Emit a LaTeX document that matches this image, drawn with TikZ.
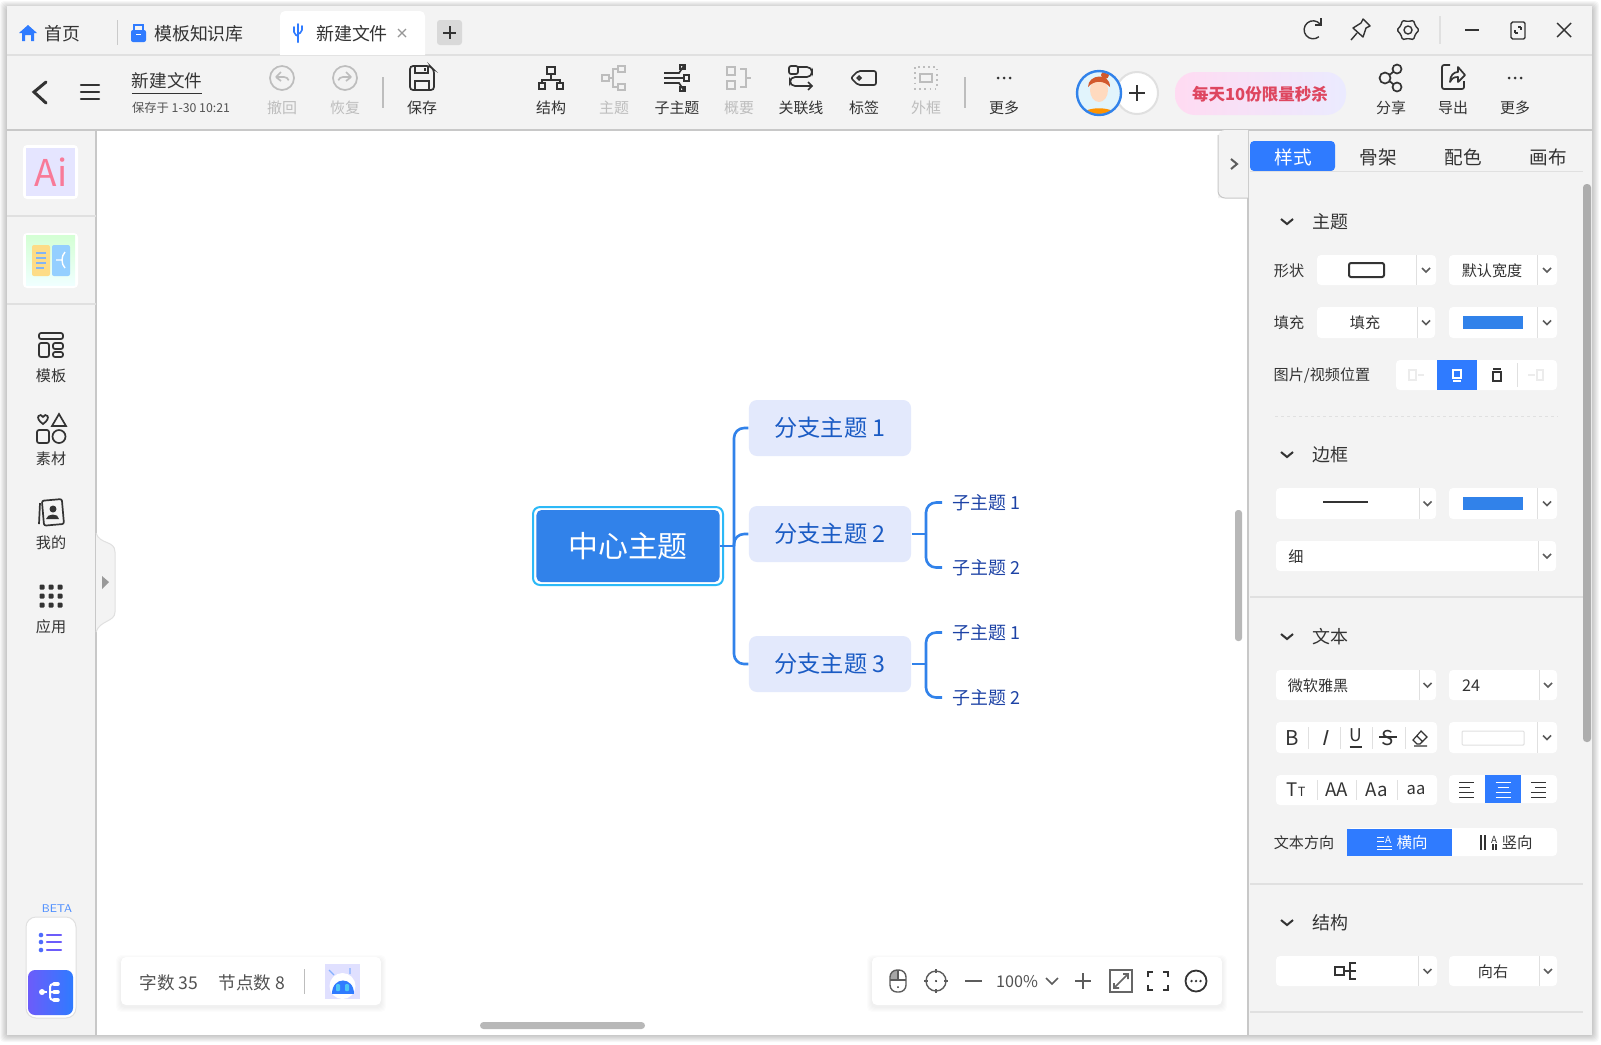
\documentclass[tikz,border=0pt]{standalone}
\usepackage{fontspec}
\setmainfont{Noto Sans CJK SC}
\usetikzlibrary{arrows.meta, positioning, shapes, calc}
\definecolor{MainBlue}{RGB}{49, 130, 234}
\definecolor{TabBlue}{RGB}{47, 123, 255}
\definecolor{PanelGray}{RGB}{243, 243, 243}
\definecolor{EdgeGray}{RGB}{200, 200, 200}
\definecolor{SoftGray}{RGB}{224, 224, 224}
\definecolor{DimGray}{RGB}{189, 189, 189}
\definecolor{Ink}{RGB}{51, 51, 51}
\definecolor{BranchFill}{RGB}{227, 233, 252}
\definecolor{BranchText}{RGB}{26, 91, 196}
\definecolor{LeafText}{RGB}{28, 66, 165}
\definecolor{RingBlue}{RGB}{44, 185, 247}
\definecolor{BeamViolet}{RGB}{108, 92, 250}
\definecolor{SaleRed}{RGB}{222, 70, 95}
\definecolor{AiPink}{RGB}{248, 122, 152}

\begin{document}
\begin{tikzpicture}[
            x=0.01cm, y=-0.01cm,
            rootnode/.style={rectangle, fill=MainBlue, text=white, rounded corners=0.05cm, minimum width=1.83cm, minimum height=0.72cm, inner sep=0pt, font=\fontsize{8.5}{10}\selectfont},
            branchnode/.style={rectangle, fill=BranchFill, text=BranchText, rounded corners=0.08cm, minimum width=1.62cm, minimum height=0.56cm, inner sep=0pt, font=\fontsize{6.6}{8}\selectfont},
            leafnode/.style={anchor=west, inner ysep=0pt, inner xsep=0.1cm, text=LeafText, font=\fontsize{5.1}{6}\selectfont},
            link/.style={draw=MainBlue, line width=0.026cm},
            turnlink/.style={link, rounded corners=0.1cm},
            txt/.style={inner sep=0pt, yshift=-0.01cm, text=Ink, font=\fontsize{5}{6}\selectfont},
            head/.style={txt, font=\fontsize{5.1}{6}\selectfont},
            tool/.style={txt, font=\fontsize{4.25}{5}\selectfont},
            small/.style={txt, font=\fontsize{4.3}{5}\selectfont},
            ico/.style={draw=Ink, line width=0.017cm},
            icodim/.style={draw=DimGray, line width=0.017cm},
            chev/.style={draw=Ink!80, line width=0.016cm},
            whitebox/.style={fill=white, rounded corners=0.04cm},
            splitline/.style={draw=SoftGray, line width=0.01cm},
            ruleline/.style={draw=SoftGray, line width=0.012cm},
            floatbar/.style={fill=white, rounded corners=0.05cm},
        ]
\useasboundingbox (0,0) rectangle (1601,1044);
\fill[white] (0,0) rectangle (1601,1044);
\foreach \d in {1,...,7} \fill[black, opacity=0.03, rounded corners=0.04cm] (7-\d,8-\d) rectangle (1592+\d,1035+\d);
\fill[PanelGray] (7,6) rectangle (1592,1035);
\fill[white] (96,130) rectangle (1248,1035);
\draw[ruleline] (7,55) -- (1592,55);
\draw[EdgeGray, line width=0.014cm] (7,130) -- (1592,130);
\draw[EdgeGray, line width=0.014cm] (96,130) -- (96,1035);
\draw[EdgeGray, line width=0.014cm] (1248,130) -- (1248,1035);

\fill[white] (280,55) [rounded corners=0.05cm] -- (280,11) -- (425,11) [sharp corners] -- (425,55) -- cycle;
\fill[TabBlue] (28,25) -- (37,33) -- (34,33) -- (34,41) -- (31,41) -- (31,35) -- (25,35) -- (25,41) -- (22,41) -- (22,33) -- (19,33) -- cycle;
\node[txt, font=\fontsize{5.1}{6}\selectfont] (tabhome) at (62,33) {首页};
\draw[SoftGray!90!black, line width=0.01cm] (117,20) -- (117,45);
\fill[TabBlue, rounded corners=0.02cm] (131,30) rectangle (146,42);
\draw[TabBlue, line width=0.018cm] (134,30) -- (134,25) -- (143,25) -- (143,30);
\fill[white] (136,34) rectangle (141,35);
\node[txt, font=\fontsize{5.1}{6}\selectfont] (tabkb) at (199,33) {模板知识库};
\draw[TabBlue, line width=0.02cm, line cap=round] (298,42) -- (298,24);
\draw[TabBlue, line width=0.016cm, line cap=round, rounded corners=0.02cm] (298,36) -- (294,34) -- (294,27);
\draw[TabBlue, line width=0.016cm, line cap=round, rounded corners=0.02cm] (298,34) -- (302,32) -- (302,26);
\node[txt, font=\fontsize{5.1}{6}\selectfont] (tabnew) at (352,33) {新建文件};
\draw[DimGray!80!black, line width=0.012cm] (398,29) -- (406,37) (406,29) -- (398,37);
\fill[rounded corners=0.03cm, fill=black!15] (437,20) rectangle (462,45);
\draw[Ink, line width=0.02cm] (443,33) -- (456,33) (449.5,26) -- (449.5,39);

\draw[ico, line width=0.014cm] (1320,24) arc (-40:-310:9);
\draw[ico, line width=0.014cm] (1321,18) -- (1321,25) -- (1315,25);
\begin{scope}[shift={(1360,30)}, ico, line width=0.014cm]
    \draw[line join=round] (3,-11) -- (10,-4) -- (6,-2) -- (3,7) -- (-7,-2) -- (1,-7) -- cycle;
    \draw (-3,3) -- (-9,10);
\end{scope}
\begin{scope}[shift={(1408,30)}, ico, line width=0.014cm]
    \draw[rounded corners=0.012cm] (0:11) -- (30:8.5) -- (60:11) -- (90:8.5) -- (120:11) -- (150:8.5) -- (180:11) -- (210:8.5) -- (240:11) -- (270:8.5) -- (300:11) -- (330:8.5) -- cycle;
    \draw (0,0) circle (4);
\end{scope}
\draw[ruleline] (1440,16) -- (1440,44);
\draw[ico, line width=0.014cm] (1465,30) -- (1479,30);
\draw[ico, line width=0.014cm, rounded corners=0.015cm] (1511,22) rectangle (1525,39);
\draw[ico, line width=0.012cm] (1515,33) -- (1515,30) (1515,33) -- (1518,33) (1521,27) -- (1521,30) (1521,27) -- (1518,27);
\draw[ico, line width=0.014cm] (1557,23) -- (1571,37) (1571,23) -- (1557,37);

\draw[Ink, line width=0.03cm, line cap=round] (46,82) -- (34,92) -- (46,103);
\draw[Ink, line width=0.024cm, line cap=round] (81,85) -- (99,85) (81,92) -- (99,92) (81,99) -- (99,99);
\node[txt, font=\fontsize{5}{6}\selectfont] (docname) at (167,83) {\underline{新建文件}};
\node[txt, text=Ink!85, font=\fontsize{3.5}{4}\selectfont] (docsaved) at (181,107) {保存于 1-30 10:21};

\foreach \tx/\tn/\tl/\tc in {282/tbundo/撤回/DimGray, 345/tbredo/恢复/DimGray, 422/tbsave/保存/Ink, 551/tbstruct/结构/Ink, 614/tbtopic/主题/DimGray, 677/tbsub/子主题/Ink, 739/tbsum/概要/DimGray, 801/tbrel/关联线/Ink, 864/tbtag/标签/Ink, 926/tbframe/外框/DimGray, 1004/tbmore/更多/Ink, 1391/tbshare/分享/Ink, 1453/tbexport/导出/Ink, 1515/tbextra/更多/Ink}
    \node[tool, text=\tc] (\tn) at (\tx,107) {\tl};
\foreach \sx in {383, 965} \draw[DimGray, line width=0.016cm] (\sx,77) -- (\sx,108);

\begin{scope}[shift={(282,78)}, icodim]
    \draw (0,0) circle (12);
    \draw (-6,-1) -- (-1,-6) (-6,-1) -- (-1,3);
    \draw (-6,-1) -- (2,-1) arc (-90:-20:5);
\end{scope}
\begin{scope}[shift={(345,78)}, icodim]
    \draw (0,0) circle (12);
    \draw (6,-1) -- (1,-6) (6,-1) -- (1,3);
    \draw (6,-1) -- (-2,-1) arc (-90:-160:5);
\end{scope}
\begin{scope}[shift={(422,78)}, ico]
    \draw[rounded corners=0.03cm] (-12,-12) -- (8,-12) -- (12,-8) -- (12,12) -- (-12,12) -- cycle;
    \draw (-7,-12) -- (-7,-5) -- (6,-5) -- (6,-12);
    \draw (-7,12) -- (-7,3) -- (7,3) -- (7,12);
    \draw (3,-10) -- (3,-7);
\end{scope}
\begin{scope}[shift={(551,78)}, ico]
    \draw (-4,-11) rectangle (4,-4);
    \draw (0,-4) -- (0,2);
    \draw (-9,5) -- (-9,2) -- (9,2) -- (9,5);
    \draw (-12,5) rectangle (-6,11);
    \draw (6,5) rectangle (12,11);
\end{scope}
\begin{scope}[shift={(614,78)}, icodim]
    \draw (-12,-3) rectangle (-5,3);
    \draw (4,-12) rectangle (11,-6);
    \draw (4,6) rectangle (11,12);
    \draw (-5,0) -- (-1,0) -- (-1,-9) -- (4,-9) (-1,0) -- (-1,9) -- (4,9);
\end{scope}
\begin{scope}[shift={(677,78)}, ico]
    \draw (-13,-5) -- (2,-5) -- (6,-11) -- (8,-11);
    \draw (-13,0) -- (7,0);
    \draw (-13,5) -- (2,5) -- (6,11) -- (8,11);
    \draw (7,-3) rectangle (12,3);
    \draw (8,-13) rectangle (3,-9);
    \draw (8,9) rectangle (3,13);
\end{scope}
\begin{scope}[shift={(739,78)}, icodim]
    \draw (-12,-11) rectangle (-4,-3);
    \draw (-12,3) rectangle (-4,11);
    \draw (1,-9) -- (7,-9) -- (7,9) -- (1,9) (7,0) -- (12,0);
\end{scope}
\begin{scope}[shift={(801,78)}, ico]
    \draw[rounded corners=0.02cm] (-12,-12) rectangle (-3,-4);
    \draw[rounded corners=0.05cm] (-3,-11) -- (11,-11) -- (11,-1) -- (-11,-1) -- (-11,8) -- (11,8);
    \draw (7,4) -- (11,8) -- (7,12);
\end{scope}
\begin{scope}[shift={(864,78)}, ico]
    \draw[rounded corners=0.02cm] (-6,-7) -- (12,-7) -- (12,7) -- (-6,7) -- (-13,0) -- cycle;
    \draw (-5,0) circle (1.8);
\end{scope}
\begin{scope}[shift={(926,78)}, icodim]
    \draw[densely dotted] (-11,-11) rectangle (11,11);
    \draw (-6,-4) rectangle (6,4);
\end{scope}
\foreach \mx in {1004, 1515} \foreach \md in {-6,0,6} \fill[Ink] (\mx+\md,78) circle (1.5);

\fill[white] (1137,93) circle (21);
\draw[black!12, line width=0.02cm] (1137,93) circle (21);
\draw[Ink, line width=0.02cm] (1137,85) -- (1137,101) (1129,93) -- (1145,93);
\begin{scope}
    \clip (1099,93) circle (21);
    \fill[black!5!cyan!12!white] (1075,70) rectangle (1125,118);
    \fill[orange!85!yellow] (1079,118) .. controls (1081,105) and (1117,105) .. (1119,118) -- cycle;
    \fill[red!15!orange!25!white] (1099,90) ellipse (9 and 12);
    \fill[brown!70!red] (1088,87) .. controls (1088,74) and (1110,72) .. (1110,87) .. controls (1104,80) and (1094,80) .. (1088,87) -- cycle;
    \fill[brown!70!red] (1105,75) circle (4);
\end{scope}
\draw[MainBlue, line width=0.024cm] (1099,93) circle (22);

\shade[left color=pink!70!magenta!30!white, middle color=pink!70!white, right color=blue!8!white, rounded corners=0.2cm] (1175,72) rectangle (1346,115);
\node[txt, text=SaleRed, font=\fontsize{4.7}{6}\selectfont\bfseries] (banner) at (1260,93) {每天10份限量秒杀};

\begin{scope}[shift={(1391,78)}, ico]
    \draw (-6,0) circle (5.5);
    \draw (6,-9) circle (4.5);
    \draw (6,9) circle (4.5);
    \draw (-1.5,-3) -- (2.5,-6.5) (-1.5,3) -- (2.5,6.5);
\end{scope}
\begin{scope}[shift={(1453,78)}, ico]
    \draw[rounded corners=0.02cm] (-3,-13) -- (-11,-13) -- (-11,11) -- (11,11) -- (11,3);
    \draw[line join=round] (-3,4) .. controls (-3,-3) and (1,-6) .. (5,-6) -- (5,-11) -- (12,-3) -- (5,4) -- (5,-1) .. controls (1,-1) and (-1,0) .. (-3,4) -- cycle;
\end{scope}

\fill[PanelGray] (1218,198) [rounded corners=0.07cm] -- (1218,130) [sharp corners] -- (1248,130) -- (1248,198) -- cycle;
\draw[EdgeGray, line width=0.01cm, rounded corners=0.07cm] (1248,198) -- (1218,198) -- (1218,135);
\draw[chev, line width=0.02cm] (1231,159) -- (1237,164) -- (1231,169);
\fill[black!28, rounded corners=0.03cm] (1235,510) rectangle (1242,641);
\fill[black!28, rounded corners=0.035cm] (480,1022) rectangle (645,1029);

\fill[white, rounded corners=0.04cm] (23,145) rectangle (78,199);
\fill[blue!10!white] (26,148) rectangle (75,196);
\node[inner sep=0pt, text=AiPink, font=\fontsize{10.5}{12}\selectfont] (aibadge) at (51,172) {Ai};
\draw[ruleline] (7,216) -- (96,216);
\fill[white, rounded corners=0.04cm] (23,233) rectangle (78,288);
\shade[top color=green!17!white, bottom color=cyan!6!white] (26,235) rectangle (75,285);
\fill[yellow!45!orange!45!white, rounded corners=0.02cm] (32,245) rectangle (50,276);
\fill[blue!45!cyan!42!white, rounded corners=0.02cm] (52,245) rectangle (70,276);
\draw[MainBlue!60, line width=0.014cm] (36,253) -- (46,253) (36,258) -- (46,258) (36,263) -- (46,263) (36,268) -- (44,268);
\draw[white, line width=0.014cm] (56,260) -- (62,260) (65,252) .. controls (61,256) and (61,264) .. (65,268);
\draw[ruleline] (7,304) -- (96,304);

\foreach \sy/\sn/\sl in {375/sidetpl/模板, 458/sidemat/素材, 542/sidemine/我的, 626/sideapp/应用}
    \node[tool, font=\fontsize{4.3}{5}\selectfont] (\sn) at (51,\sy) {\sl};
\begin{scope}[shift={(51,345)}, ico, rounded corners=0.02cm]
    \draw (-12,-12) rectangle (12,-6);
    \draw (-12,-2) rectangle (-2,12);
    \draw (2,-2) rectangle (12,4);
    \draw (2,7) rectangle (12,12);
\end{scope}
\begin{scope}[shift={(51,429)}, ico]
    \draw (-8,-5) .. controls (-18,-12) and (-10,-17) .. (-8,-12) .. controls (-6,-17) and (2,-12) .. (-8,-5) -- cycle;
    \draw (8,-15) -- (15,-3) -- (1,-3) -- cycle;
    \draw[rounded corners=0.02cm] (-14,1) rectangle (-2,14);
    \draw (8,7.5) circle (6.5);
\end{scope}
\begin{scope}[shift={(51,513)}, ico]
    \draw[rounded corners=0.02cm, rotate=5] (-8,-13) rectangle (12,12);
    \draw (-11,-10) -- (-12,11);
    \fill[Ink] (2,-4) circle (3.5);
    \fill[Ink] (-5,6) .. controls (-4,0) and (8,0) .. (8,6) -- cycle;
\end{scope}
\foreach \gx in {-9,0,9} \foreach \gy in {-9,0,9} \fill[Ink, rounded corners=0.01cm] (51+\gx-2.5,596+\gy-2.5) rectangle (51+\gx+2.5,596+\gy+2.5);

\fill[PanelGray] (96,533) .. controls (100,545) and (115,540) .. (115,552) -- (115,612) .. controls (115,622) and (100,620) .. (96,632) -- cycle;
\draw[SoftGray, line width=0.01cm] (96,533) .. controls (100,545) and (115,540) .. (115,552) -- (115,612) .. controls (115,622) and (100,620) .. (96,632);
\fill[black!40] (102,576) -- (109,582) -- (102,589) -- cycle;

\node[inner sep=0pt, text=TabBlue!85, font=\fontsize{3.2}{4}\selectfont\sffamily] (betatag) at (57,909) {BETA};
\fill[white, rounded corners=0.1cm] (26,917) rectangle (76,1018);
\draw[SoftGray, line width=0.01cm, rounded corners=0.1cm] (26,917) rectangle (76,1018);
\foreach \ly in {935,942,950} {
    \fill[BeamViolet!50!TabBlue] (41,\ly) circle (2.3);
    \draw[BeamViolet, line width=0.022cm, line cap=round] (47,\ly) -- (61,\ly);
}
\shade[left color=BeamViolet, right color=TabBlue, rounded corners=0.07cm] (28,970) rectangle (73,1015);
\draw[white, line width=0.02cm] (42,992) -- (47,992);
\draw[white, line width=0.02cm, rounded corners=0.03cm] (54,984) -- (50,984) -- (50,1000) -- (54,1000) (50,992) -- (54,992);
\fill[white] (42,992) circle (3);
\foreach \py in {984,992,1000} \draw[white, line width=0.035cm, line cap=round] (54,\py) -- (58,\py);

\foreach \d in {1,...,5} \fill[black, opacity=0.012, rounded corners=0.05cm] (121-\d,957-\d+3) rectangle (381+\d,1005+\d+2);
\fill[floatbar] (121,957) rectangle (381,1005);
\node[txt, text=Ink!85, font=\fontsize{5}{6}\selectfont] (wordcount) at (169,982) {字数 35};
\node[txt, text=Ink!85, font=\fontsize{5}{6}\selectfont] (nodecount) at (252,982) {节点数 8};
\draw[DimGray, line width=0.01cm] (304,969) -- (304,994);
\fill[blue!12!white] (325,964) rectangle (360,999);
\fill[white] (342.5,986) circle (13);
\fill[TabBlue] (332,994) .. controls (332,976) and (354,976) .. (354,994) -- cycle;
\fill[cyan!70!white, rounded corners=0.01cm] (336,984) rectangle (340,991) (345,984) rectangle (349,991);
\draw[TabBlue!60, line width=0.012cm] (329,970) -- (334,975) (350,968) -- (350,974);

\foreach \d in {1,...,5} \fill[black, opacity=0.012, rounded corners=0.05cm] (872-\d,957-\d+3) rectangle (1222+\d,1005+\d+2);
\fill[floatbar] (872,957) rectangle (1222,1005);
\begin{scope}[shift={(898,981)}, draw=Ink!80, line width=0.014cm]
    \fill[black!35] (-8,-1) -- (-8,-5) .. controls (-8,-9) and (-4,-11) .. (0,-11) -- (0,-1) -- cycle;
    \draw[rounded corners=0.07cm] (-8,-11) rectangle (8,11);
    \draw (-8,-1) -- (8,-1) (0,-11) -- (0,-1);
    \fill[Ink] (0,6) circle (1);
\end{scope}
\begin{scope}[shift={(936,981)}, draw=Ink!80, line width=0.014cm]
    \draw (0,0) circle (10);
    \draw (0,-12) -- (0,-8) (0,8) -- (0,12) (-12,0) -- (-8,0) (8,0) -- (12,0);
    \fill[Ink] (0,0) circle (1.2);
\end{scope}
\draw[Ink!80, line width=0.016cm] (965,981) -- (982,981);
\node[txt, text=Ink!85, font=\fontsize{4.6}{6}\selectfont] (zoomlevel) at (1017,981) {100\%};
\draw[chev] (1046,978) -- (1052,984) -- (1058,978);
\draw[Ink!80, line width=0.018cm] (1075,981) -- (1091,981) (1083,973) -- (1083,989);
\begin{scope}[shift={(1121,981)}, draw=Ink!75, line width=0.016cm]
    \draw (-11,-11) rectangle (11,11);
    \draw (-7,7) -- (7,-7) (2,-7) -- (7,-7) -- (7,-2) (-7,2) -- (-7,7) -- (-2,7);
\end{scope}
\begin{scope}[shift={(1158,981)}, draw=Ink, line width=0.02cm]
    \draw (-10,-4) -- (-10,-9) -- (-5,-9) (5,-9) -- (10,-9) -- (10,-4) (10,4) -- (10,9) -- (5,9) (-5,9) -- (-10,9) -- (-10,4);
\end{scope}
\begin{scope}[shift={(1196,981)}]
    \draw[Ink, line width=0.018cm] (0,0) circle (10.5);
    \foreach \dd in {-4.5,0,4.5} \fill[Ink] (\dd,0) circle (1.3);
\end{scope}

\fill[TabBlue, rounded corners=0.04cm] (1250,141) rectangle (1335,171);
\node[head, text=white, font=\fontsize{5.3}{6}\selectfont] (panelstyle) at (1293,156) {样式};
\foreach \px/\pn/\pl in {1378/panelbone/骨架, 1463/panelcolor/配色, 1548/panelcanvas/画布}
    \node[head, font=\fontsize{5.3}{6}\selectfont] (\pn) at (\px,156) {\pl};
\draw[ruleline, line width=0.006cm] (1250,171) -- (1583,171);
\fill[black!32, rounded corners=0.035cm] (1583,184) rectangle (1591,742);

\foreach \hy/\hn/\hl in {221/headtopic/主题, 454/headborder/边框, 636/headtext/文本, 922/headstruct/结构} {
    \draw[Ink, line width=0.02cm] (1281,\hy-2) -- (1287,\hy+3) -- (1293,\hy-2);
    \node[head] (\hn) at (1330,\hy) {\hl};
}
\foreach \ly in {597, 884, 1012} \draw[ruleline] (1250,\ly) -- (1583,\ly);
\draw[ruleline, dash pattern=on 0.03cm off 0.03cm, line width=0.008cm] (1275,416) -- (1558,416);

\foreach \xa/\xb/\xs/\ya/\yb in {1317/1436/1416/255/285, 1449/1557/1537/255/285, 1317/1435/1417/307/338, 1449/1557/1537/307/338, 1276/1436/1419/488/519, 1449/1557/1537/488/519, 1276/1556/1538/541/571, 1276/1436/1419/670/700, 1449/1557/1539/670/700, 1449/1557/1537/722/753, 1276/1437/1418/956/986, 1449/1557/1539/956/986} {
    \fill[whitebox] (\xa,\ya) rectangle (\xb,\yb);
    \draw[splitline] (\xs,\ya) -- (\xs,\yb);
    \pgfmathsetmacro\cx{(\xs+\xb)/2}
    \pgfmathsetmacro\cy{(\ya+\yb)/2}
    \draw[chev] (\cx-4,\cy-2) -- (\cx,\cy+2) -- (\cx+4,\cy-2);
}
\foreach \xa/\xb/\ya/\yb in {1396/1557/360/390, 1276/1437/722/753, 1276/1437/775/805, 1449/1557/775/803, 1347/1557/828/856}
    \fill[whitebox] (\xa,\ya) rectangle (\xb,\yb);

\foreach \lx/\ly/\ln/\ll in {1289/270/labelshape/形状, 1289/322/labelfill/填充, 1304/842/labeldir/文本方向}
    \node[small] (\ln) at (\lx,\ly) {\ll};
\node[small] (labelpos) at (1322,374) {图片/视频位置};
\node[small] (labelwidth) at (1492,270) {默认宽度};
\node[small] (labelfillmode) at (1365,322) {填充};
\node[small] (labelthin) at (1296,556) {细};
\node[small] (labelfont) at (1318,685) {微软雅黑};
\node[small, font=\fontsize{4.6}{5}\selectfont] (labelsize) at (1471,685) {24};
\node[small] (labelright) at (1493,971) {向右};

\draw[Ink, line width=0.02cm, rounded corners=0.02cm] (1349,263) rectangle (1384,277);
\fill[MainBlue] (1463,316) rectangle (1523,329);
\fill[MainBlue] (1463,497) rectangle (1523,510);
\draw[Ink, line width=0.016cm] (1323,502) -- (1368,502);
\draw[SoftGray, line width=0.01cm, rounded corners=0.01cm] (1462,731) rectangle (1524,745);

\fill[TabBlue] (1437,360) rectangle (1477,390);
\draw[SoftGray!60, line width=0.012cm] (1409,370) rectangle (1416,380) (1418,375) -- (1424,375) (1528,375) -- (1535,375) (1537,370) rectangle (1543,380);
\draw[white, line width=0.012cm] (1453,370) rectangle (1461,378) (1453,381) -- (1461,381);
\draw[Ink, line width=0.012cm] (1493,372) rectangle (1501,381) (1493,369) -- (1501,369);
\draw[splitline] (1517,363) -- (1517,387);

\node[txt, font=\fontsize{5.8}{6}\selectfont] (fmtbold) at (1292,737) {B};
\node[txt, font=\fontsize{5.8}{6}\selectfont\addfontfeatures{FakeSlant=0.25}] (fmtitalic) at (1324,737) {I};
\node[txt, font=\fontsize{5}{6}\selectfont] (fmtunder) at (1356,738) {\underline{U}};
\node[txt, font=\fontsize{5.8}{6}\selectfont] (fmtstrike) at (1388,737) {S};
\draw[Ink, line width=0.012cm] (1379,737) -- (1397,737);
\begin{scope}[shift={(1420,738)}, Ink, line width=0.012cm]
    \draw (-7,2) -- (1,-7) -- (7,-1) -- (0,6) -- (-3,6) -- cycle (-3,-2) -- (3,4) (-6,8) -- (7,8);
\end{scope}
\foreach \vx in {1308,1340,1372,1405} \draw[splitline] (\vx,727) -- (\vx,749);
\foreach \vx in {1317,1356,1397} \draw[splitline] (\vx,780) -- (\vx,800);
\node[txt, font=\fontsize{5.3}{6}\selectfont] (caseTt) at (1296,789) {T\fontsize{3.6}{4}\selectfont T};
\node[txt, font=\fontsize{5.3}{6}\selectfont] (caseAA) at (1337,789) {AA};
\node[txt, font=\fontsize{5.3}{6}\selectfont] (caseAa) at (1377,789) {Aa};
\node[txt, font=\fontsize{4.7}{6}\selectfont] (caseaa) at (1416,789) {aa};
\fill[TabBlue] (1485,775) rectangle (1521,803);
\foreach \oy/\ow in {783/15, 788/11, 793/15, 798/15} {
    \draw[Ink, line width=0.01cm] (1459,\oy-1) -- (1459+\ow,\oy-1);
    \draw[white, line width=0.01cm] (1503-\ow/2,\oy-1) -- (1503+\ow/2,\oy-1);
    \draw[Ink, line width=0.01cm] (1546-\ow,\oy-1) -- (1546,\oy-1);
}
\fill[TabBlue] (1347,829) rectangle (1452,856);
\draw[white, line width=0.01cm] (1377,837) -- (1384,837) (1377,841) -- (1384,841) (1377,846) -- (1392,846) (1377,849) -- (1392,849);
\node[small, text=white, font=\fontsize{2.8}{3}\selectfont] (dirA) at (1388,839) {A};
\node[small, text=white, font=\fontsize{4.4}{5}\selectfont] (dirh) at (1412,842) {横向};
\draw[Ink, line width=0.012cm] (1481,835) -- (1481,850) (1485,835) -- (1485,850) (1493,844) -- (1493,850) (1496,844) -- (1496,850);
\node[small, font=\fontsize{2.8}{3}\selectfont] (dirB) at (1494,839) {A};
\node[small, font=\fontsize{4.4}{5}\selectfont] (dirv) at (1517,842) {竖向};
\draw[Ink, line width=0.012cm] (1335,967) rectangle (1344,975) (1344,971) -- (1350,971) (1356,963) -- (1350,963) -- (1350,979) -- (1356,979) (1350,971) -- (1356,971);

\node[rootnode] (root) at (628,546) {中心主题};
\draw[RingBlue, line width=0.02cm, rounded corners=0.07cm] (533,507) rectangle (723,585);
\node[branchnode] (branchone) at (830,428) {分支主题 1};
\node[branchnode] (branchtwo) at (830,534) {分支主题 2};
\node[branchnode] (branchthree) at (830,664) {分支主题 3};
\node[leafnode] (leaftwoa) at (942,502.5) {子主题 1};
\node[leafnode] (leaftwob) at (942,567.5) {子主题 2};
\node[leafnode] (leafthreea) at (942,632.5) {子主题 1};
\node[leafnode] (leafthreeb) at (942,697.5) {子主题 2};
\coordinate (trunk) at (734,546);
\coordinate (forktwo) at (926,534);
\coordinate (forkthree) at (926,664);
\draw[link] (root.east) -- (trunk);
\draw[turnlink] (trunk) |- (branchone.west);
\draw[turnlink] (trunk) |- (branchtwo.west);
\draw[turnlink] (trunk) |- (branchthree.west);
\draw[link] (branchtwo.east) -- (forktwo);
\draw[turnlink] (forktwo) |- (leaftwoa.west);
\draw[turnlink] (forktwo) |- (leaftwob.west);
\draw[link] (branchthree.east) -- (forkthree);
\draw[turnlink] (forkthree) |- (leafthreea.west);
\draw[turnlink] (forkthree) |- (leafthreeb.west);
\end{tikzpicture}
\end{document}
